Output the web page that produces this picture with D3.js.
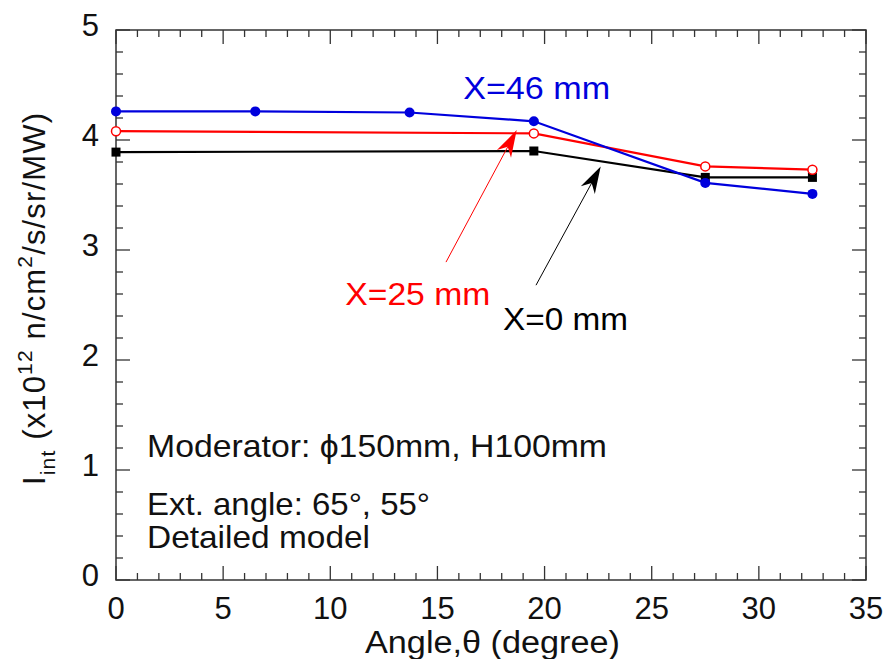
<!DOCTYPE html>
<html>
<head>
<meta charset="utf-8">
<script src="https://cdn.jsdelivr.net/npm/d3@7"></script>
<style>
  html, body { margin: 0; padding: 0; background: #fff; }
  svg text { font-family: "Liberation Sans", Arial, sans-serif; }
</style>
</head>
<body>
<svg id="chart" width="883" height="659"></svg>
<script>
// Angle (degree) at which each series was evaluated
const angleX46 = [0, 6.5, 13.7, 19.5, 27.5, 32.5];
const angleX25 = [0, 19.5, 27.5, 32.5];
const angleX0 = [0, 19.5, 27.5, 32.5];

// Integrated intensity, x10^12 n/cm^2/s/sr/MW
const intensityX46 = [4.26, 4.26, 4.25, 4.17, 3.61, 3.51];
const intensityX25 = [4.08, 4.06, 3.76, 3.73];
const intensityX0 = [3.89, 3.90, 3.66, 3.66];

const xTickValues = [0, 5, 10, 15, 20, 25, 30, 35];
const yTickValues = [0, 1, 2, 3, 4, 5];

const seriesLabels = ["X=46 mm", "X=25 mm", "X=0 mm"];
const noteLines = ["Moderator: \u03d5150mm, H100mm", "Ext. angle: 65\u00b0, 55\u00b0", "Detailed model"];

const svg = d3.select("#chart");
const margin = { left: 116, right: 17, top: 30, bottom: 79 };
const W = 883, H = 659;

const x = d3.scaleLinear().domain([0, 35]).range([margin.left, W - margin.right]);
const y = d3.scaleLinear().domain([0, 5]).range([H - margin.bottom, margin.top]);

const axisColor = "#333";
const FS = 31;

// Frame
svg.append("rect")
  .attr("x", x(0)).attr("y", y(5))
  .attr("width", x(35) - x(0)).attr("height", y(0) - y(5))
  .attr("fill", "none").attr("stroke", axisColor).attr("stroke-width", 1.5);

// Inward ticks on all four sides: major every 5 / 1, minor every 1 / 0.2
const xMinor = d3.range(0, 35.001, 1);
const yMinor = d3.range(0, 5.001, 0.2);
const majLen = 14, minLen = 7;
const tickG = svg.append("g").attr("stroke", axisColor).attr("stroke-width", 1.3);
xMinor.forEach(v => {
  const len = Math.abs(v % 5) < 1e-6 ? majLen : minLen;
  tickG.append("line").attr("x1", x(v)).attr("x2", x(v)).attr("y1", y(0)).attr("y2", y(0) - len);
  tickG.append("line").attr("x1", x(v)).attr("x2", x(v)).attr("y1", y(5)).attr("y2", y(5) + len);
});
yMinor.forEach(v => {
  const r = Math.round(v * 10) / 10;
  const len = Math.abs(r - Math.round(r)) < 1e-6 ? majLen : minLen;
  tickG.append("line").attr("x1", x(0)).attr("x2", x(0) + len).attr("y1", y(r)).attr("y2", y(r));
  tickG.append("line").attr("x1", x(35)).attr("x2", x(35) - len).attr("y1", y(r)).attr("y2", y(r));
});

// Tick labels
svg.append("g").selectAll("text").data(xTickValues).join("text")
  .attr("x", d => x(d)).attr("y", y(0) + 39)
  .attr("text-anchor", "middle").attr("font-size", FS).attr("fill", "#111")
  .text(d => d);
svg.append("g").selectAll("text").data(yTickValues).join("text")
  .attr("x", x(0) - 17).attr("y", d => y(d) + 6)
  .attr("text-anchor", "end").attr("font-size", FS).attr("fill", "#111")
  .text(d => d);

// Axis titles
svg.append("text")
  .attr("x", 365).attr("y", 653)
  .attr("font-size", 31).attr("fill", "#111")
  .attr("textLength", 255).attr("lengthAdjust", "spacingAndGlyphs")
  .text("Angle,\u03b8 (degree)");

const yTitle = svg.append("text")
  .attr("transform", "translate(45, 485) rotate(-90)")
  .attr("font-size", 31).attr("fill", "#111")
  .attr("textLength", 372).attr("lengthAdjust", "spacing");
yTitle.append("tspan").text("I");
yTitle.append("tspan").attr("font-size", 21).attr("dy", 10).text("int");
yTitle.append("tspan").attr("dy", -10).text(" (x10");
yTitle.append("tspan").attr("font-size", 21).attr("dy", -13).text("12");
yTitle.append("tspan").attr("dy", 13).text(" n/cm");
yTitle.append("tspan").attr("font-size", 21).attr("dy", -13).text("2");
yTitle.append("tspan").attr("dy", 13).text("/s/sr/MW)");

// Data lines
const line = d3.line().x(d => x(d[0])).y(d => y(d[1]));
const pts46 = angleX46.map((a, i) => [a, intensityX46[i]]);
const pts25 = angleX25.map((a, i) => [a, intensityX25[i]]);
const pts0 = angleX0.map((a, i) => [a, intensityX0[i]]);

svg.append("path").datum(pts0).attr("d", line)
  .attr("fill", "none").attr("stroke", "#000").attr("stroke-width", 2.2);
svg.append("path").datum(pts25).attr("d", line)
  .attr("fill", "none").attr("stroke", "#ff0000").attr("stroke-width", 2.2);
svg.append("path").datum(pts46).attr("d", line)
  .attr("fill", "none").attr("stroke", "#0000dd").attr("stroke-width", 2.2);

// Markers
svg.append("g").selectAll("rect").data(pts0).join("rect")
  .attr("x", d => x(d[0]) - 4.5).attr("y", d => y(d[1]) - 4.5)
  .attr("width", 9).attr("height", 9).attr("fill", "#000");
svg.append("g").selectAll("circle").data(pts25).join("circle")
  .attr("cx", d => x(d[0])).attr("cy", d => y(d[1])).attr("r", 4.5)
  .attr("fill", "#fff").attr("stroke", "#ff0000").attr("stroke-width", 1.5);
svg.append("g").selectAll("circle").data(pts46).join("circle")
  .attr("cx", d => x(d[0])).attr("cy", d => y(d[1])).attr("r", 5)
  .attr("fill", "#0000dd");

// Series labels with arrows (positions in data units)
const labelPos = [[16.2, 4.373], [10.7, 2.5], [18.06, 2.273]];
const labelWidths = [147, 145, 125];
const labelColors = ["#0000dd", "#ff0000", "#000"];
svg.append("g").selectAll("text").data(seriesLabels).join("text")
  .attr("x", (d, i) => x(labelPos[i][0])).attr("y", (d, i) => y(labelPos[i][1]))
  .attr("font-size", 32).attr("fill", (d, i) => labelColors[i])
  .attr("textLength", (d, i) => labelWidths[i]).attr("lengthAdjust", "spacingAndGlyphs")
  .text(d => d);

const arrows = [
  { from: [15.4, 2.89], to: [18.7, 4.09], color: "#ff0000" },
  { from: [19.6, 2.68], to: [22.62, 3.76], color: "#000" }
];
arrows.forEach(a => {
  const x1 = x(a.from[0]), y1 = y(a.from[1]), x2 = x(a.to[0]), y2 = y(a.to[1]);
  const ang = Math.atan2(y2 - y1, x2 - x1);
  const L = 27, hw = 8, notch = 19;
  const ux = Math.cos(ang), uy = Math.sin(ang);
  const px = -uy, py = ux;
  const bx = x2 - ux * L, by = y2 - uy * L;
  const nx = x2 - ux * notch, ny = y2 - uy * notch;
  svg.append("line")
    .attr("x1", x1).attr("y1", y1).attr("x2", nx).attr("y2", ny)
    .attr("stroke", a.color).attr("stroke-width", 1);
  svg.append("path")
    .attr("d", `M${x2},${y2} L${bx + px * hw},${by + py * hw} L${nx},${ny} L${bx - px * hw},${by - py * hw} Z`)
    .attr("fill", a.color);
});

// Notes inside the plot
const noteWidths = [460, 283, 223];
svg.append("g").selectAll("text").data(noteLines).join("text")
  .attr("x", 147).attr("y", (d, i) => [457, 515, 548][i])
  .attr("font-size", 32).attr("fill", "#111")
  .attr("textLength", (d, i) => noteWidths[i]).attr("lengthAdjust", "spacingAndGlyphs")
  .text(d => d);
</script>
</body>
</html>
